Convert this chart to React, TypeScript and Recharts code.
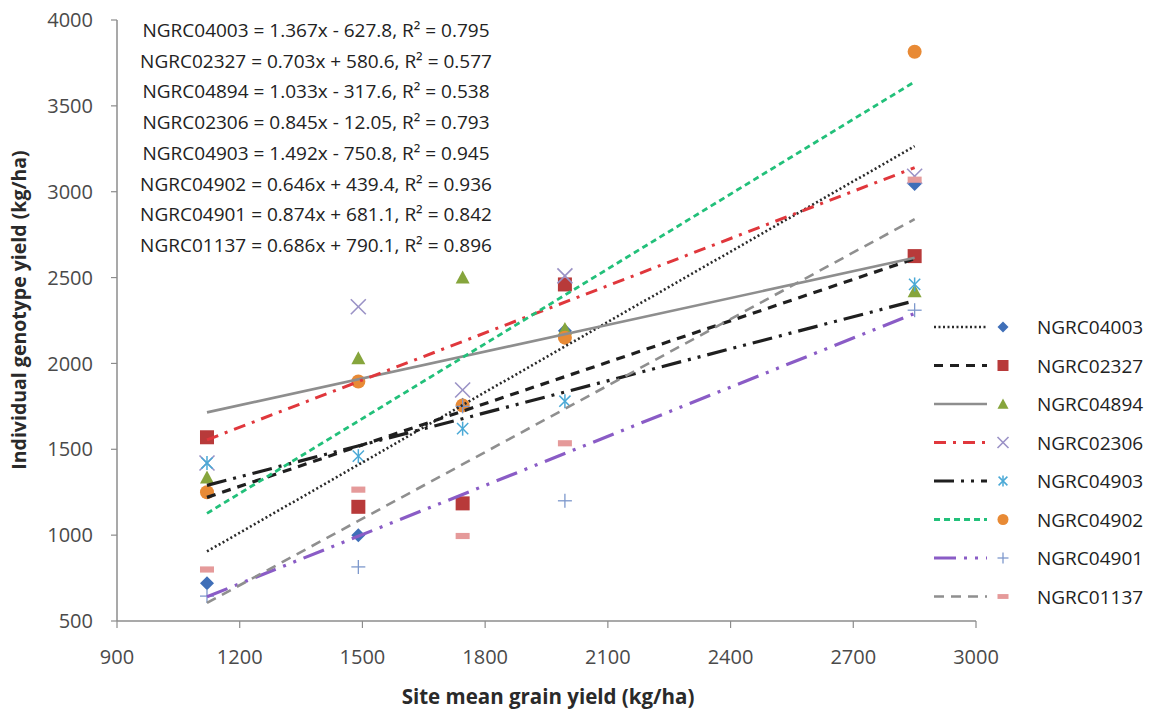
import React from 'react';
import { ScatterChart, Scatter, XAxis, YAxis } from 'recharts';

// ---------- data ----------
const siteMeans = [1120, 1490, 1745, 1995, 2850];
const genotypes = ['NGRC04003', 'NGRC02327', 'NGRC04894', 'NGRC02306', 'NGRC04903', 'NGRC04902', 'NGRC04901', 'NGRC01137'];

const yNGRC04003 = [720, 1000, 1760, 2190, 3045];
const yNGRC02327 = [1570, 1165, 1185, 2460, 2625];
const yNGRC04894 = [1335, 2030, 2500, 2200, 2420];
const yNGRC02306 = [1420, 2330, 1845, 2510, 3090];
const yNGRC04903 = [1420, 1460, 1620, 1780, 2460];
const yNGRC04902 = [1250, 1895, 1755, 2150, 3815];
const yNGRC04901 = [645, 815, 1750, 1200, 2310];
const yNGRC01137 = [800, 1265, 995, 1535, 3070];

// trend line ends (at lowest and highest site mean)
const fitX = [1120, 2850];
const fitNGRC04003 = [905, 3265];
const fitNGRC02327 = [1220, 2610];
const fitNGRC04894 = [1715, 2615];
const fitNGRC02306 = [1555, 3140];
const fitNGRC04903 = [1290, 2365];
const fitNGRC04902 = [1127, 3640];
const fitNGRC04901 = [641, 2291];
const fitNGRC01137 = [605, 2840];

const xTicks = [900, 1200, 1500, 1800, 2100, 2400, 2700, 3000];
const yTicks = [500, 1000, 1500, 2000, 2500, 3000, 3500, 4000];

const equations = [
  'NGRC04003 = 1.367x - 627.8,  R² = 0.795',
  'NGRC02327 = 0.703x + 580.6,  R² = 0.577',
  'NGRC04894 = 1.033x - 317.6,  R² = 0.538',
  'NGRC02306 = 0.845x - 12.05,  R² = 0.793',
  'NGRC04903 = 1.492x - 750.8,  R² = 0.945',
  'NGRC04902 = 0.646x + 439.4,  R² = 0.936',
  'NGRC04901 = 0.874x + 681.1,  R² = 0.842',
  'NGRC01137 = 0.686x + 790.1,  R² = 0.896',
];

const pointSeries = [yNGRC04003, yNGRC02327, yNGRC04894, yNGRC02306, yNGRC04903, yNGRC04902, yNGRC04901, yNGRC01137];
const fitSeries = [fitNGRC04003, fitNGRC02327, fitNGRC04894, fitNGRC02306, fitNGRC04903, fitNGRC04902, fitNGRC04901, fitNGRC01137];

// ---------- styles ----------
type Sty = { marker: string; color: string; line: string; dash: string; w: number };
const styles: Sty[] = [
  { marker: 'diamond', color: '#3f6fb8', line: '#2a2a2a', dash: '2 2.5', w: 2.6 },
  { marker: 'square', color: '#b83a3a', line: '#1f1f1f', dash: '9 7', w: 3.2 },
  { marker: 'triangle', color: '#86a53c', line: '#8e8e8e', dash: '', w: 2.6 },
  { marker: 'cross', color: '#9a92c6', line: '#e0373c', dash: '12 7 3 7', w: 3 },
  { marker: 'star', color: '#4aa9d6', line: '#1f1f1f', dash: '20 7 3 7 3 7', w: 3.2 },
  { marker: 'circle', color: '#e88a35', line: '#22c07a', dash: '6 4', w: 2.8 },
  { marker: 'plus', color: '#7d98cc', line: '#8a5cc6', dash: '22 8 3 8 3 8', w: 3.2 },
  { marker: 'dash', color: '#e59a9a', line: '#8f8f8f', dash: '10 7', w: 2.6 },
];

const FONT = "'Open Sans', 'DejaVu Sans', sans-serif";

function Marker({ kind, color, cx, cy, s }: { kind: string; color: string; cx: number; cy: number; s: number }) {
  const h = s / 2;
  switch (kind) {
    case 'diamond':
      return <polygon points={`${cx},${cy - h} ${cx + h},${cy} ${cx},${cy + h} ${cx - h},${cy}`} fill={color} />;
    case 'square':
      return <rect x={cx - h} y={cy - h} width={s} height={s} fill={color} />;
    case 'triangle':
      return <polygon points={`${cx},${cy - h} ${cx + h},${cy + h * 0.85} ${cx - h},${cy + h * 0.85}`} fill={color} />;
    case 'cross':
      return (
        <g stroke={color} strokeWidth={1.6}>
          <line x1={cx - h} y1={cy - h} x2={cx + h} y2={cy + h} />
          <line x1={cx - h} y1={cy + h} x2={cx + h} y2={cy - h} />
        </g>
      );
    case 'star':
      return (
        <g stroke={color} strokeWidth={1.5}>
          <line x1={cx} y1={cy - h} x2={cx} y2={cy + h} />
          <line x1={cx - h * 0.8} y1={cy - h * 0.8} x2={cx + h * 0.8} y2={cy + h * 0.8} />
          <line x1={cx - h * 0.8} y1={cy + h * 0.8} x2={cx + h * 0.8} y2={cy - h * 0.8} />
        </g>
      );
    case 'circle':
      return <circle cx={cx} cy={cy} r={h} fill={color} />;
    case 'plus':
      return (
        <g stroke={color} strokeWidth={1.3}>
          <line x1={cx} y1={cy - h} x2={cx} y2={cy + h} />
          <line x1={cx - h} y1={cy} x2={cx + h} y2={cy} />
        </g>
      );
    case 'dash':
      return <rect x={cx - h} y={cy - s * 0.22} width={s} height={s * 0.44} fill={color} />;
    default:
      return null;
  }
}

const Empty = () => <g />;

export default function App() {
  const legendTop = 327;
  const legendStep = 38.5;
  return (
    <div style={{ position: 'absolute', left: 0, top: 0, width: 1152, height: 714, background: '#fff' }}>
      <ScatterChart width={1152} height={714} margin={{ top: 20, right: 176, bottom: 0, left: 0 }}>
        <XAxis
          type="number"
          dataKey="x"
          domain={[900, 3000]}
          ticks={xTicks}
          allowDataOverflow
          height={93}
          axisLine={{ stroke: '#8c8c8c', strokeWidth: 1.5 }}
          tickLine={{ stroke: '#8c8c8c', strokeWidth: 1.2 }}
          tickSize={7}
          tickMargin={22}
          tick={{ fill: '#4a4a4a', fontSize: 20, fontFamily: FONT }}
        />
        <YAxis
          type="number"
          dataKey="y"
          domain={[500, 4000]}
          ticks={yTicks}
          allowDataOverflow
          width={117}
          axisLine={{ stroke: '#8c8c8c', strokeWidth: 1.5 }}
          tickLine={{ stroke: '#8c8c8c', strokeWidth: 1.2 }}
          tickSize={6}
          tickMargin={18}
          tick={{ fill: '#4a4a4a', fontSize: 20, fontFamily: FONT }}
        />
        {pointSeries.map((ys, i) => (
          <Scatter
            key={'p' + i}
            name={genotypes[i]}
            data={ys.map((y, j) => ({ x: siteMeans[j], y }))}
            isAnimationActive={false}
            shape={(p: any) => <Marker kind={styles[i].marker} color={styles[i].color} cx={p.cx} cy={p.cy} s={i === 3 ? 15 : 14} />}
          />
        ))}
        {fitSeries.map((ys, i) => (
          <Scatter
            key={'f' + i}
            name={genotypes[i] + ' trend'}
            data={ys.map((y, j) => ({ x: fitX[j], y }))}
            isAnimationActive={false}
            line={{ stroke: styles[i].line, strokeWidth: styles[i].w, strokeDasharray: styles[i].dash || undefined }}
            shape={Empty}
          />
        ))}
      </ScatterChart>
      <svg width={1152} height={714} style={{ position: 'absolute', left: 0, top: 0, pointerEvents: 'none' }}>
        {equations.map((t, i) => (
          <text key={i} x={316} y={37 + i * 30.7} textAnchor="middle" fontFamily={FONT} fontSize={19} fill="#222">
            {t}
          </text>
        ))}
        <text
          transform="translate(26,310) rotate(-90)"
          textAnchor="middle"
          fontFamily={FONT}
          fontWeight="bold"
          fontSize={19.5}
          fill="#2a2a2a"
        >
          Individual genotype yield (kg/ha)
        </text>
        <text x={548} y={704} textAnchor="middle" fontFamily={FONT} fontWeight="bold" fontSize={20.5} fill="#2a2a2a">
          Site mean grain yield (kg/ha)
        </text>
        {genotypes.map((g, i) => {
          const y = legendTop + i * legendStep;
          const st = styles[i];
          return (
            <g key={g}>
              <line x1={934} y1={y} x2={987} y2={y} stroke={st.line} strokeWidth={st.w} strokeDasharray={st.dash || undefined} />
              <Marker kind={st.marker} color={st.color} cx={1003} cy={y} s={11} />
              <text x={1037} y={y + 7} fontFamily={FONT} fontSize={19} fill="#222">
                {g}
              </text>
            </g>
          );
        })}
      </svg>
    </div>
  );
}
